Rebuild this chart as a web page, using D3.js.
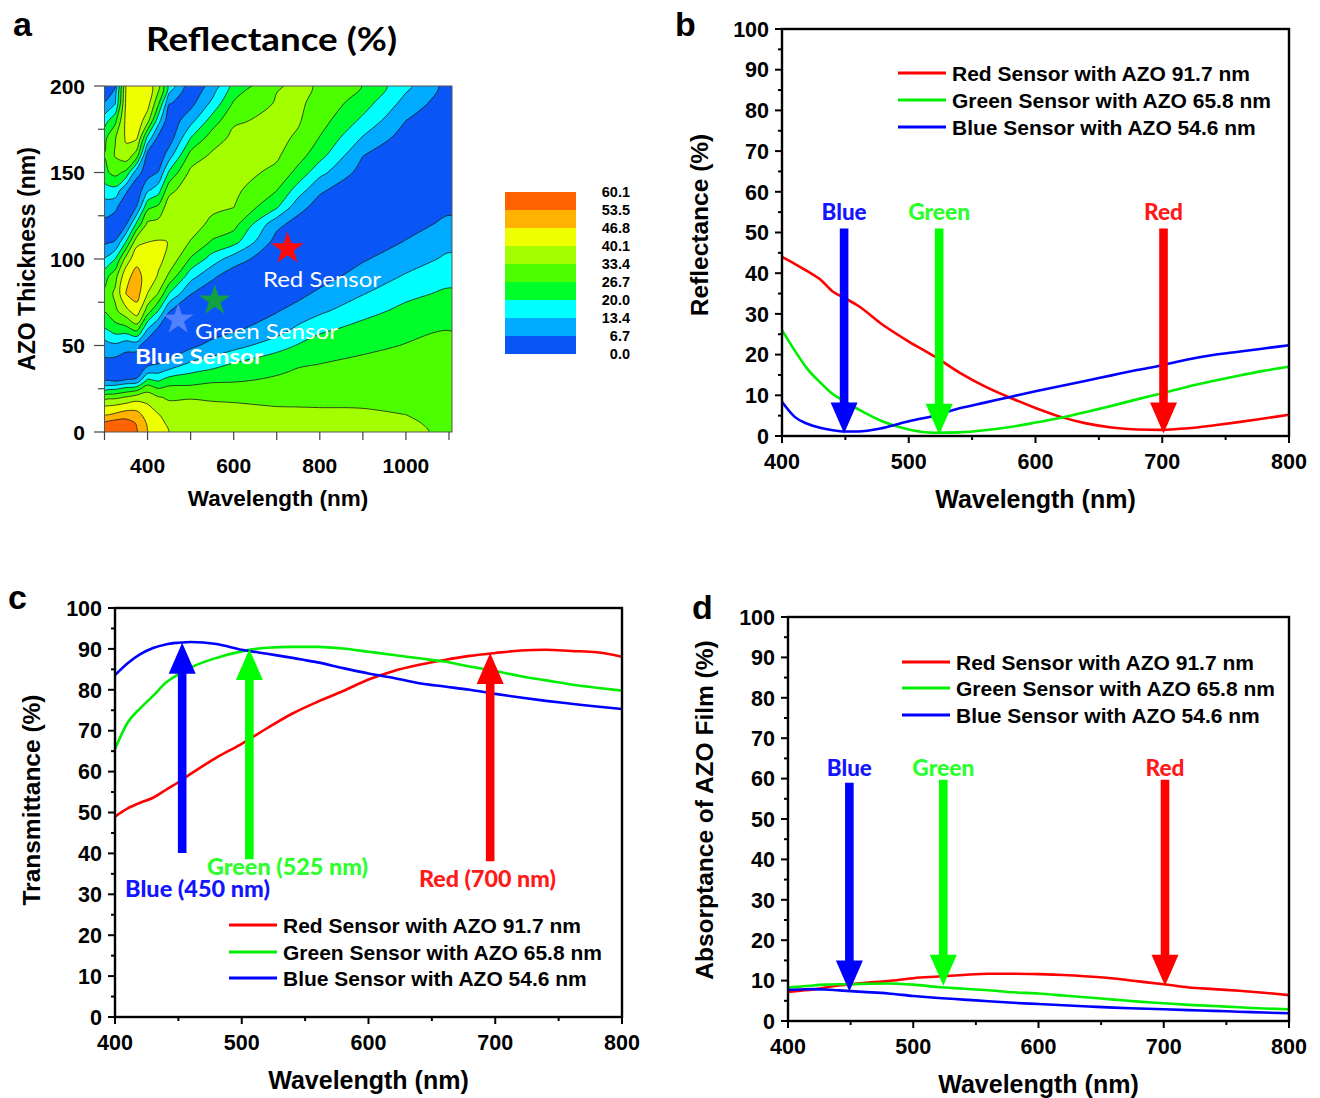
<!DOCTYPE html>
<html><head><meta charset="utf-8">
<script src="https://cdn.jsdelivr.net/npm/d3@7"></script>
<style>body{margin:0;background:#fff}</style>
</head><body>
<svg id="fig" width="1320" height="1098" xmlns="http://www.w3.org/2000/svg"></svg>
<script>
// ================= DATA =================
// Panel a: simulated reflectance map
const wavelengthCols = [300,325,350,375,400,425,450,500,550,600,700,750,800,900,1000,1100];
const thicknessRows = [0,5,10,15,20,25,30,35,40,50,60,70,80,90,100,110,120,130,140,150,160,170,180,190,200];
// one array per wavelength column, values for each thickness row (%)
const reflectanceColumns = [
 [57,55,46,40,31,17,6,3.5,5,10,20,27,28,24,14,5,4.5,10,17,25,27,25,17,7,3],
 [59,57,48,41,32,19,5,2,4,12,24,32,35,31,20,7,3,8,18,29,34,33,25,13,6],
 [59,57,50,43,34,22,7,2,3,9,25,38,47,45,36,20,6,2,8,25,38,41,42,41.5,40.5],
 [54,53,49,44,37,24,8,2,2.5,9,30,44,49.5,49,45,38,22,7,2,9,30,41,45,46,45],
 [47,46,44,41,37,31,21,11,4,2,14,30,40,44,43,40,35,25,12,3.5,4,18,36,43,44],
 [43,42,40.5,37,34,27,19,12,6,1.5,6,20,33,39.5,41.5,40.5,36,28,17,7,2,5,16,28,36],
 [40,39,37,35,32.5,28.5,23,15,8,2,1.5,7,20,32,38.5,40,39.5,37.5,31,21,10,3,2,7,18],
 [38.5,38,37,35,33,28.5,24,19,14,5,1.5,1.5,7,16,26,33,37,38.5,38,35,29,20,11,4.5,2],
 [38,37.5,36,34.5,32.5,29.5,25.5,21.5,16,9,2.5,0.8,2.5,8,17,26,31.5,35,36.5,36.5,34.5,30,23,15,9],
 [37.5,37,35.5,34,32.5,29,26,22.5,20,11,5.5,1.5,0.8,3,10,22.5,29,33.5,35,35.8,35.8,35,32.5,27.5,22],
 [37,36.5,35,33.3,31,29,27.5,26,24.5,17,10,6.3,3,1,1.5,4,8.5,20.8,27,32,34.3,35,35,34,33],
 [36.8,36.4,35,33.2,31.5,29.8,28.5,27.2,26,20.5,14.5,9,5,2.5,0.8,1.2,4,9,17,24.5,29.5,32.5,34,34.4,34.2],
 [36.5,36.3,35.2,33,31.8,30.5,29.3,28,26.5,23,18.5,12,8,4,1.5,0.6,1.5,4,7.8,15.5,22.5,26.4,29.5,31.5,33],
 [36.5,36,34.5,33,32.3,31.5,30.5,29.5,28.2,25,21.8,18,13,9.5,6,3,1.2,0.8,1.8,4,6.9,12.8,18.5,23,26.5],
 [35,34.2,33.4,32.8,32,31.5,31,30,29.3,27,24.8,21.5,18.5,14,10.5,7,4.5,2.5,1.2,0.8,1.5,3.5,6.7,11,15],
 [32,32,31.8,31.5,31,30.5,30,29.5,29,28,26.5,23.5,21,18,14.5,11.5,8,5.5,3.5,2,1.2,1,1.5,2.5,4]
];
const contourLevels = [0.0, 6.7, 13.4, 20.0, 26.7, 33.4, 40.1, 46.8, 53.5, 60.1];
const levelColors = ["#0a55f5","#00aaff","#00ffff","#00ff2a","#4cff00","#a3ff00","#eeff00","#ffb300","#ff6200"];
const sensorNames = ["Red Sensor","Green Sensor","Blue Sensor"];
const sensorWavelength = [725, 556, 471];
const sensorThickness = [106, 76, 65];
const sensorStarColors = ["#ff0a0a","#12a040","#5a86ff"];

// Panels b, c, d: spectra
const wl = [400,410,420,430,440,450,460,480,500,520,540,560,580,600,620,640,660,680,700,720,740,760,780,800];
const seriesLabels = ["Red Sensor with AZO 91.7 nm","Green Sensor with AZO 65.8 nm","Blue Sensor with AZO 54.6 nm"];
const seriesColors = ["#ff0000","#00ee00","#0000ff"];

const reflRed   = [44,42.3,40.5,38.5,35.5,33.8,32,27.2,23.2,19.6,15.6,12.2,9.4,6.9,4.7,3.1,2.1,1.6,1.5,1.9,2.6,3.4,4.3,5.2];
const reflGreen = [26,21,16.5,13.2,10.3,8.4,6.6,3.5,1.6,0.8,0.9,1.4,2.2,3.3,4.5,5.9,7.4,9.0,10.5,12.1,13.5,14.8,16.0,17.0];
const reflBlue  = [8.4,4.7,3.0,2.0,1.4,1.1,1.1,2.0,3.6,5.0,6.8,8.2,9.6,11.0,12.3,13.6,14.9,16.2,17.4,18.8,19.9,20.7,21.5,22.3];

const transRed   = [49,51,52.4,53.6,55.5,57.4,59.5,63.4,66.8,70.6,74.2,77.1,79.7,82.5,84.6,86.1,87.3,88.3,89.0,89.6,89.8,89.5,89.2,88.1];
const transGreen = [65.5,72,75.5,78.5,81.7,83.8,85.5,87.8,89.4,90.3,90.5,90.5,90.1,89.3,88.5,87.7,86.9,85.7,84.6,83.3,82.3,81.3,80.5,79.8];
const transBlue  = [83.6,86.5,88.7,90.2,91.1,91.5,91.7,91.2,89.8,88.8,87.8,86.7,85.3,84.0,82.9,81.6,80.8,80.0,79.0,78.1,77.3,76.6,75.9,75.3];

const absRed   = [7.2,7.5,7.8,8.3,8.8,9.1,9.4,9.9,10.6,11.0,11.4,11.7,11.7,11.6,11.4,11.0,10.5,9.8,9.1,8.3,7.9,7.5,7.0,6.4];
const absGreen = [8.3,8.5,8.8,9.0,9.1,9.1,9.2,9.3,9.0,8.4,8.0,7.6,7.1,6.8,6.3,5.8,5.3,4.8,4.4,4.0,3.7,3.4,3.1,2.9];
const absBlue  = [7.7,7.8,7.9,7.8,7.6,7.4,7.2,6.8,6.2,5.7,5.3,4.9,4.5,4.2,3.9,3.6,3.3,3.1,2.9,2.7,2.5,2.3,2.1,1.9];

const arrowNames = ["Blue","Green","Red"];
const arrowColors = ["#0000ff","#00ff00","#ff0000"];
const arrowLabelColors = ["#1414ff","#2cff2c","#ff1a1a"];
// panel b arrows (downwards)
const arrowWlB = [449, 524, 701];
const arrowFromB = [51, 51, 51];
const arrowToB = [0.6, 0.3, 0.6];
// panel c arrows (upwards)
const arrowWlC = [453, 506, 696];
const arrowFromC = [40.1, 38.6, 38.1];
const arrowToC = [91.5, 90.0, 89.0];
const arrowTextC = ["Blue (450 nm)","Green (525 nm)","Red (700 nm)"];
// panel d arrows (downwards)
const arrowWlD = [449, 524, 701];
const arrowFromD = [59, 59.7, 59.7];
const arrowToD = [7.3, 8.7, 8.7];

// ================= DRAWING =================
const svg = d3.select("#fig");
const NUM = '"Liberation Sans", Arial, Helvetica, sans-serif';
const CAL = 'Lato, "Open Sans", sans-serif';

// ---------- Panel a ----------
const ax = d3.scaleLinear().domain([300, 1107]).range([104.5, 452]);
const ay = d3.scaleLinear().domain([0, 200]).range([432, 86]);
const nx = wavelengthCols.length, ny = thicknessRows.length;
const grid = new Array(nx * ny);
for (let j = 0; j < ny; j++) for (let i = 0; i < nx; i++) grid[j * nx + i] = reflectanceColumns[i][j];
const gridX = d3.scaleLinear().domain(d3.range(nx)).range(wavelengthCols);
const gridY = d3.scaleLinear().domain(d3.range(ny)).range(thicknessRows);
const toPx = p => [ax(gridX(p[0] - 0.5)), ay(gridY(p[1] - 0.5))];
const ringLine = d3.line().curve(d3.curveCatmullRomClosed.alpha(0.5));
const contourPath = mp => mp.coordinates.map(poly => poly.map(r => ringLine(r.slice(0, -1).map(toPx))).join("")).join("");
const contours = d3.contours().size([nx, ny]).smooth(true).thresholds(contourLevels.slice(0, 9))(grid);

svg.append("clipPath").attr("id", "clipA").append("rect")
  .attr("x", ax(300)).attr("y", ay(200)).attr("width", ax(1107) - ax(300)).attr("height", ay(0) - ay(200));
const ga = svg.append("g").attr("clip-path", "url(#clipA)");
contours.forEach((c, k) => {
  ga.append("path").attr("d", contourPath(c)).attr("fill", levelColors[k]).attr("fill-rule", "evenodd")
    .attr("stroke", k === 0 ? "none" : "#1a1a1a").attr("stroke-width", 0.8);
});
svg.append("rect").attr("x", ax(300)).attr("y", ay(200)).attr("width", ax(1107) - ax(300)).attr("height", ay(0) - ay(200))
  .attr("fill", "none").attr("stroke", "#555").attr("stroke-width", 1);

// stars and labels
const starSizes = [330, 300, 300];
sensorNames.forEach((n, i) => {
  svg.append("path").attr("d", d3.symbol(d3.symbolStar, starSizes[i])())
    .attr("transform", `translate(${ax(sensorWavelength[i])},${ay(sensorThickness[i])})`)
    .attr("fill", sensorStarColors[i]).attr("opacity", i === 2 ? 0.9 : 1);
});
const sensorLabelX = [263, 195, 135], sensorLabelY = [287, 339, 364], sensorLabelW = [118, 143, 128];
sensorNames.forEach((n, i) => {
  svg.append("text").text(n).attr("x", sensorLabelX[i]).attr("y", sensorLabelY[i])
    .attr("font-family", CAL).attr("font-size", 21).attr("font-weight", i === 2 ? 700 : 400)
    .attr("fill", "#fff").attr("textLength", sensorLabelW[i]).attr("lengthAdjust", "spacingAndGlyphs");
});

// axes a
const gAxA = svg.append("g").attr("font-family", NUM);
[0, 50, 100, 150, 200].forEach(v => {
  gAxA.append("line").attr("x1", 104.5).attr("x2", 94).attr("y1", ay(v)).attr("y2", ay(v)).attr("stroke", "#444").attr("stroke-width", 1.2);
  gAxA.append("text").text(v).attr("x", 85).attr("y", ay(v)).attr("dy", "0.36em").attr("text-anchor", "end")
    .attr("font-size", 21).attr("font-weight", 700);
});
[25, 75, 125, 175].forEach(v => gAxA.append("line").attr("x1", 104.5).attr("x2", 98).attr("y1", ay(v)).attr("y2", ay(v)).attr("stroke", "#444").attr("stroke-width", 1.2));
d3.range(300, 1101, 100).forEach(v => {
  gAxA.append("line").attr("x1", ax(v)).attr("x2", ax(v)).attr("y1", 432).attr("y2", 440).attr("stroke", "#444").attr("stroke-width", 1.2);
});
[400, 600, 800, 1000].forEach(v => gAxA.append("text").text(v).attr("x", ax(v)).attr("y", 473).attr("text-anchor", "middle")
  .attr("font-size", 21).attr("font-weight", 700));
gAxA.append("text").text("Wavelength (nm)").attr("x", 278).attr("y", 506).attr("text-anchor", "middle")
  .attr("font-size", 22.5).attr("font-weight", 700);
gAxA.append("text").text("AZO Thickness (nm)").attr("transform", "translate(35,259) rotate(-90)").attr("text-anchor", "middle")
  .attr("font-size", 23).attr("font-weight", 700);
svg.append("text").text("Reflectance (%)").attr("x", 146).attr("y", 51).attr("font-family", CAL).attr("font-weight", 700)
  .attr("font-size", 33).attr("textLength", 251).attr("lengthAdjust", "spacingAndGlyphs");

// colour bar
const cbTop = 192, cbH = 18;
for (let k = 0; k < 9; k++) {
  svg.append("rect").attr("x", 505).attr("y", cbTop + (8 - k) * cbH).attr("width", 71).attr("height", cbH).attr("fill", levelColors[k]);
}
contourLevels.forEach((v, k) => {
  svg.append("text").text(v.toFixed(1)).attr("x", 630).attr("y", cbTop + (9 - k) * cbH).attr("dy", "0.36em")
    .attr("text-anchor", "end").attr("font-family", NUM).attr("font-weight", 700).attr("font-size", 14.5);
});

// panel letters
[["a", 13, 36], ["b", 675, 36], ["c", 8, 609], ["d", 692, 619]].forEach(([t, x, y]) =>
  svg.append("text").text(t).attr("x", x).attr("y", y).attr("font-family", NUM).attr("font-weight", 700).attr("font-size", 34));

// ---------- line panels ----------
function linePanel(o) {
  const g = svg.append("g");
  const x = d3.scaleLinear().domain([400, 800]).range([o.x0, o.x1]);
  const y = d3.scaleLinear().domain([0, 100]).range([o.y0, o.y1]);
  const line = d3.line().x((d, i) => x(wl[i])).y(d => y(d)).curve(d3.curveMonotoneX);
  o.series.forEach((s, i) => g.append("path").attr("d", line(s)).attr("fill", "none")
    .attr("stroke", seriesColors[i]).attr("stroke-width", 2.6));
  // arrows
  o.arrowWl.forEach((w, i) => {
    const xc = x(w), yFrom = y(o.arrowFrom[i]), yTip = y(o.arrowTo[i]);
    const dir = yTip > yFrom ? 1 : -1;
    const hh = 31, hw = 13.5, sw = 4.3;
    const yBase = yTip - dir * hh;
    const p = d3.path();
    p.moveTo(xc - sw, yFrom); p.lineTo(xc + sw, yFrom); p.lineTo(xc + sw, yBase); p.lineTo(xc + hw, yBase);
    p.lineTo(xc, yTip); p.lineTo(xc - hw, yBase); p.lineTo(xc - sw, yBase); p.closePath();
    g.append("path").attr("d", p.toString()).attr("fill", arrowColors[i]);
  });
  // frame
  g.append("rect").attr("x", o.x0).attr("y", o.y1).attr("width", o.x1 - o.x0).attr("height", o.y0 - o.y1)
    .attr("fill", "none").attr("stroke", "#000").attr("stroke-width", 2.4);
  // ticks
  const gt = g.append("g").attr("font-family", NUM);
  d3.range(0, 101, 10).forEach(v => {
    gt.append("line").attr("x1", o.x0).attr("x2", o.x0 - 7).attr("y1", y(v)).attr("y2", y(v)).attr("stroke", "#000").attr("stroke-width", 2);
    gt.append("text").text(v).attr("x", o.x0 - 13).attr("y", y(v)).attr("dy", "0.36em").attr("text-anchor", "end")
      .attr("font-size", 21.5).attr("font-weight", 700);
  });
  d3.range(5, 100, 10).forEach(v => gt.append("line").attr("x1", o.x0).attr("x2", o.x0 - 4).attr("y1", y(v)).attr("y2", y(v)).attr("stroke", "#000").attr("stroke-width", 2));
  d3.range(400, 801, 100).forEach(v => {
    gt.append("line").attr("x1", x(v)).attr("x2", x(v)).attr("y1", o.y0).attr("y2", o.y0 + 7).attr("stroke", "#000").attr("stroke-width", 2);
    gt.append("text").text(v).attr("x", x(v)).attr("y", o.y0 + 33).attr("text-anchor", "middle").attr("font-size", 21.5).attr("font-weight", 700);
  });
  d3.range(450, 800, 100).forEach(v => gt.append("line").attr("x1", x(v)).attr("x2", x(v)).attr("y1", o.y0).attr("y2", o.y0 + 4).attr("stroke", "#000").attr("stroke-width", 2));
  gt.append("text").text("Wavelength (nm)").attr("x", (o.x0 + o.x1) / 2).attr("y", o.y0 + o.xlabDy).attr("text-anchor", "middle")
    .attr("font-size", 25).attr("font-weight", 700);
  gt.append("text").text(o.ylabel).attr("transform", `translate(${o.ylabX},${o.ylabY}) rotate(-90)`).attr("text-anchor", "middle")
    .attr("font-size", 24.5).attr("font-weight", 700);
  // legend
  seriesLabels.forEach((t, i) => {
    const yy = o.legY[i];
    gt.append("line").attr("x1", o.legX).attr("x2", o.legX + 48).attr("y1", yy).attr("y2", yy).attr("stroke", seriesColors[i]).attr("stroke-width", 3.2);
    gt.append("text").text(t).attr("x", o.legX + 54).attr("y", yy).attr("dy", "0.36em").attr("font-size", 21).attr("font-weight", 700);
  });
  return { x, y, g };
}

// panel b
const pb = linePanel({ x0: 782, x1: 1289, y0: 436, y1: 29, series: [reflRed, reflGreen, reflBlue],
  arrowWl: arrowWlB, arrowFrom: arrowFromB, arrowTo: arrowToB,
  ylabel: "Reflectance (%)", ylabX: 708, ylabY: 225, xlabDy: 72, legX: 898, legY: [73, 100, 127] });
const labWB = [45, 62, 39];
arrowNames.forEach((t, i) => svg.append("text").text(t).attr("x", pb.x(arrowWlB[i])).attr("y", 220).attr("text-anchor", "middle")
  .attr("font-family", CAL).attr("font-weight", 900).attr("font-size", 22).attr("fill", arrowLabelColors[i])
  .attr("textLength", labWB[i]).attr("lengthAdjust", "spacingAndGlyphs"));

// panel c
const pc = linePanel({ x0: 115, x1: 622, y0: 1017, y1: 608, series: [transRed, transGreen, transBlue],
  arrowWl: arrowWlC, arrowFrom: arrowFromC, arrowTo: arrowToC,
  ylabel: "Transmittance (%)", ylabX: 40, ylabY: 800, xlabDy: 72, legX: 229, legY: [925, 952, 978] });
const labCX = [125, 207, 419], labCY = [897, 875, 887], labCW = [145, 161, 137];
const labColorsC = ["#1414ff", "#2cff2c", "#ff1a1a"];
arrowTextC.forEach((t, i) => svg.append("text").text(t).attr("x", labCX[i]).attr("y", labCY[i])
  .attr("font-family", CAL).attr("font-weight", 900).attr("font-size", 23).attr("fill", labColorsC[i])
  .attr("textLength", labCW[i]).attr("lengthAdjust", "spacingAndGlyphs"));

// panel d
const pd = linePanel({ x0: 788, x1: 1289, y0: 1021, y1: 617, series: [absRed, absGreen, absBlue],
  arrowWl: arrowWlD, arrowFrom: arrowFromD, arrowTo: arrowToD,
  ylabel: "Absorptance of AZO Film (%)", ylabX: 713, ylabY: 810, xlabDy: 72, legX: 902, legY: [662, 688, 715] });
arrowNames.forEach((t, i) => svg.append("text").text(t).attr("x", pd.x(arrowWlD[i])).attr("y", 776).attr("text-anchor", "middle")
  .attr("font-family", CAL).attr("font-weight", 900).attr("font-size", 22).attr("fill", arrowLabelColors[i])
  .attr("textLength", labWB[i]).attr("lengthAdjust", "spacingAndGlyphs"));
</script>
</body></html>
